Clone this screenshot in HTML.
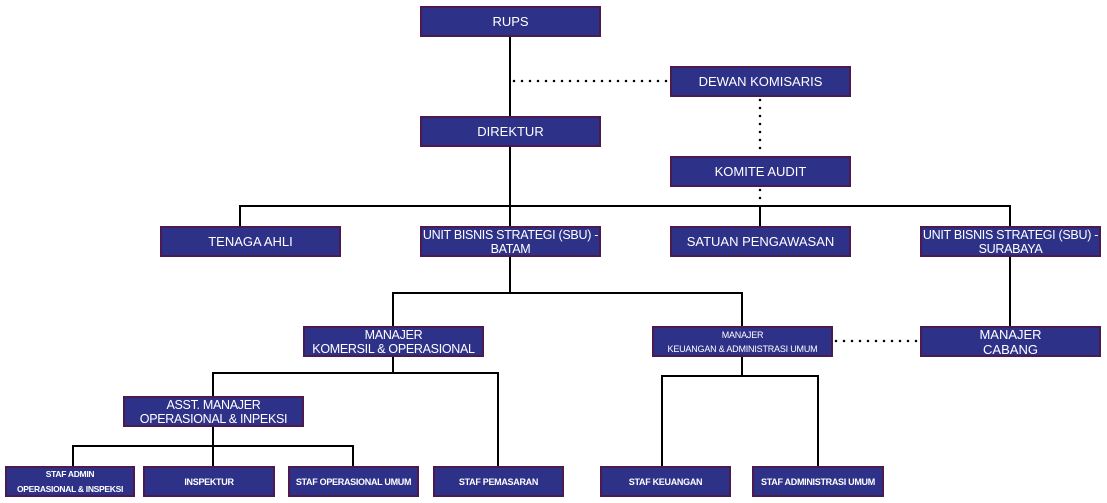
<!DOCTYPE html>
<html><head><meta charset="utf-8"><style>
body{margin:0;width:1107px;height:503px;background:#fff;position:relative;overflow:hidden;font-family:"Liberation Sans",sans-serif;}
.b{position:absolute;background:#2e3188;border:2px solid #4d1a4f;box-sizing:border-box;color:#fff;display:flex;align-items:center;justify-content:center;text-align:center;font-size:13px;line-height:15px;white-space:nowrap;}
.n{font-size:12.5px;letter-spacing:-0.3px;line-height:14px}
.s{font-size:9px;line-height:14px;font-weight:bold;letter-spacing:-0.3px}
svg{position:absolute;left:0;top:0}
</style></head><body>
<svg width="1107" height="503">
<g stroke="#000" stroke-width="2" fill="none">
<path d="M510 36V226M240 226V206H1010V226M760 206V226M510 257V293M393 326V293H742V326M1010 257V326M393 357V373M213 396V373H498V466M213 427V446M73 466V446H353V466M213 446V466M742 357V376M662 466V376H818V466"/>
</g>
<g stroke="#000" stroke-width="2.5" stroke-dasharray="0 8" stroke-linecap="round" fill="none">
<path d="M514 81H668M760 100V156M760 190V206M836 341H918"/>
</g>
</svg>
<div class="b" style="left:420px;top:6px;width:181px;height:31px">RUPS</div>
<div class="b" style="left:670px;top:66px;width:181px;height:31px">DEWAN KOMISARIS</div>
<div class="b" style="left:420px;top:116px;width:181px;height:31px">DIREKTUR</div>
<div class="b" style="left:670px;top:156px;width:181px;height:31px">KOMITE AUDIT</div>
<div class="b" style="left:160px;top:226px;width:181px;height:31px">TENAGA AHLI</div>
<div class="b n" style="left:420px;top:226px;width:181px;height:31px">UNIT BISNIS STRATEGI (SBU) -<br>BATAM</div>
<div class="b" style="left:670px;top:226px;width:181px;height:31px">SATUAN PENGAWASAN</div>
<div class="b n" style="left:920px;top:226px;width:181px;height:31px">UNIT BISNIS STRATEGI (SBU) -<br>SURABAYA</div>
<div class="b n" style="left:303px;top:326px;width:181px;height:31px">MANAJER<br>KOMERSIL &amp; OPERASIONAL</div>
<div class="b s" style="left:652px;top:326px;width:181px;height:31px;font-weight:normal;letter-spacing:-0.2px">MANAJER<br>KEUANGAN &amp; ADMINISTRASI UMUM</div>
<div class="b" style="left:920px;top:326px;width:181px;height:31px">MANAJER<br>CABANG</div>
<div class="b n" style="left:123px;top:396px;width:181px;height:31px">ASST. MANAJER<br>OPERASIONAL &amp; INPEKSI</div>
<div class="b s" style="left:5px;top:466px;width:130px;height:31px;line-height:15px;font-size:8.5px">STAF ADMIN<br>OPERASIONAL &amp; INSPEKSI</div>
<div class="b s" style="left:143px;top:466px;width:132px;height:31px">INSPEKTUR</div>
<div class="b s" style="left:288px;top:466px;width:131px;height:31px">STAF OPERASIONAL UMUM</div>
<div class="b s" style="left:433px;top:466px;width:131px;height:31px">STAF PEMASARAN</div>
<div class="b s" style="left:600px;top:466px;width:131px;height:31px">STAF KEUANGAN</div>
<div class="b s" style="left:752px;top:466px;width:132px;height:31px">STAF ADMINISTRASI UMUM</div>
</body></html>
